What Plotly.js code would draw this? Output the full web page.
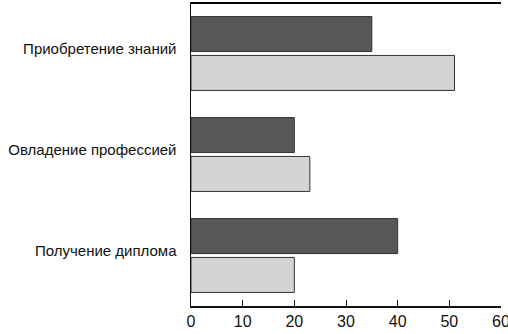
<!DOCTYPE html>
<html><head><meta charset="utf-8">
<script src="https://cdn.plot.ly/plotly-3.0.1.min.js"></script>
<style>html,body{margin:0;padding:0;background:#fff}#c{width:508px;height:334px}</style>
</head><body><div id="c"></div>
<script>
const categories = ["Приобретение знаний", "Овладение профессией", "Получение диплома"];
const seriesDark = [35, 20, 40];
const seriesLight = [51, 23, 20];
const xTicks = [0, 10, 20, 30, 40, 50, 60];

const font = "'Liberation Sans', Arial, sans-serif";
const traces = [
  {type:'bar', orientation:'h', y:categories, x:seriesDark, name:'A',
   marker:{color:'#575757', line:{color:'#333', width:1}}},
  {type:'bar', orientation:'h', y:categories, x:seriesLight, name:'B',
   marker:{color:'#d4d4d4', line:{color:'#333', width:1}}}
];
const layout = {
  width:508, height:334,
  margin:{l:191, r:7, t:3, b:28, pad:0},
  paper_bgcolor:'#fff', plot_bgcolor:'#fff',
  showlegend:false,
  barmode:'group', bargap:0.23, bargroupgap:0.1,
  font:{family:font, size:15, color:'#111'},
  shapes:[{type:'line', xref:'paper', yref:'paper', x0:0, x1:1, y0:1, y1:1,
    layer:'above', line:{color:'#000', width:2}}],
  xaxis:{range:[0,60], tickvals:xTicks, ticktext:xTicks.map(String),
    showgrid:false, zeroline:false, showline:true, linecolor:'#111', linewidth:1.5,
    mirror:true, ticks:'inside', ticklen:6, tickcolor:'#111', tickwidth:1,
    ticklabeloverflow:'allow',
    tickfont:{family:font, size:16, color:'#111'}},
  yaxis:{type:'category', categoryorder:'array', categoryarray:categories, autorange:'reversed',
    showgrid:false, zeroline:false, showline:true, linecolor:'#111', linewidth:1.5,
    ticks:'', ticklabelstandoff:10, ticklabelshift:5,
    tickfont:{family:font, size:15, color:'#111'}}
};
Plotly.newPlot('c', traces, layout, {staticPlot:true, displayModeBar:false});
</script></body></html>
